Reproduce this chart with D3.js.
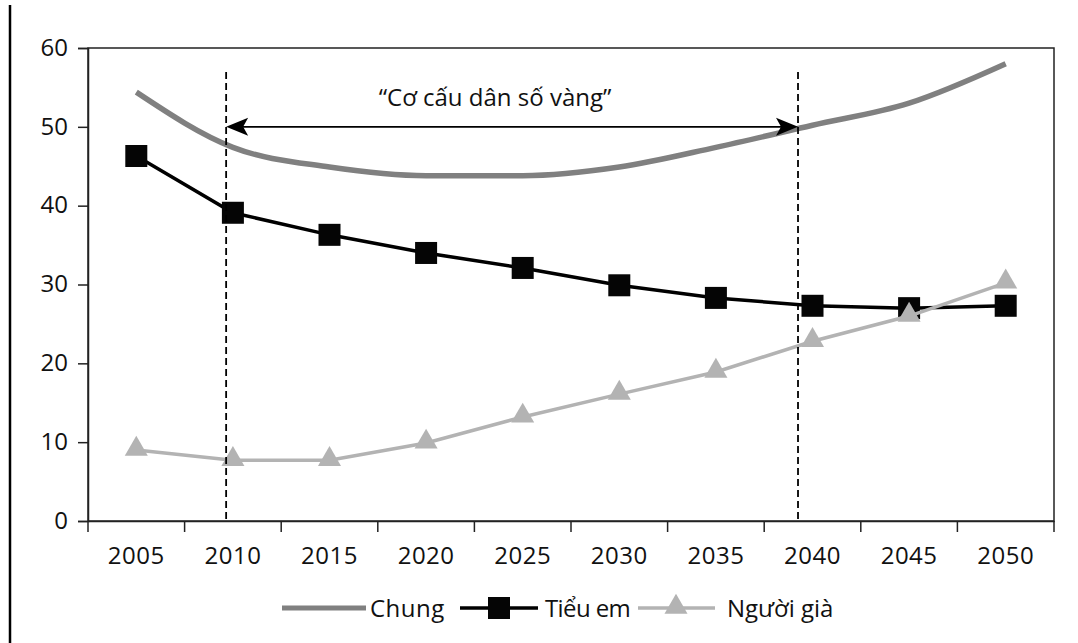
<!DOCTYPE html>
<html>
<head>
<meta charset="utf-8">
<script src="https://cdn.jsdelivr.net/npm/d3@7"></script>
<style>
  body { margin: 0; background: #fff; }
  text { font-family: "Open Sans", sans-serif; fill: #111; }
</style>
</head>
<body>
<div id="chart"></div>
<script>
// years on the category axis
var years = [2005, 2010, 2015, 2020, 2025, 2030, 2035, 2040, 2045, 2050];
// series values
var chung   = [54.4, 47.4, 44.9, 43.8, 43.8, 44.9, 47.4, 50.2, 53.0, 58.0];
var treEm   = [46.3, 39.1, 36.3, 34.0, 32.1, 29.9, 28.3, 27.3, 27.0, 27.3];
var nguoiGia = [9.0, 7.7, 7.7, 9.9, 13.2, 16.1, 18.9, 22.8, 26.0, 30.2];
var yTicks = [0, 10, 20, 30, 40, 50, 60];
// "golden structure" period markers (fractional years)
var goldenStart = 2009.65, goldenEnd = 2039.25;
var goldenLabel = "\u201CCơ cấu dân số vàng\u201D";
var seriesNames = ["Chung", "Tiểu em", "Người già"];

var W = 1078, H = 643;
var svg = d3.select("#chart").append("svg")
    .attr("width", W).attr("height", H);

// page border on the left
svg.append("line")
    .attr("x1", 10).attr("x2", 10).attr("y1", 5).attr("y2", H)
    .style("stroke", "#000").style("stroke-width", 2.5);

var plotL = 88, plotR = 1054, plotT = 48, plotB = 521;

var x = d3.scaleBand().domain(years).range([plotL, plotR]).padding(0);
var bw = x.bandwidth();
var cx = function (d) { return x(d) + bw / 2; };
// continuous year scale through the band centres
var xy = d3.scaleLinear().domain([years[0], years[years.length - 1]])
    .range([cx(years[0]), cx(years[years.length - 1])]);
var y = d3.scaleLinear().domain([0, 60]).range([plotB, plotT]);

// frame
svg.append("rect")
    .attr("x", plotL).attr("y", plotT)
    .attr("width", plotR - plotL).attr("height", plotB - plotT)
    .style("fill", "none").style("stroke", "#222").style("stroke-width", 1.5);

// y axis
var yAxis = svg.append("g")
    .attr("transform", "translate(" + plotL + ",0)")
    .call(d3.axisLeft(y).tickValues(yTicks).tickSize(10).tickPadding(10).tickFormat(d3.format("d")));
yAxis.select(".domain").style("stroke", "#222").style("stroke-width", 1.5);
yAxis.selectAll(".tick line").style("stroke", "#222").style("stroke-width", 1.5);
yAxis.selectAll("text")
    .style("font-family", "'Open Sans', sans-serif")
    .style("font-size", "24px").style("fill", "#111")
    .attr("dy", "0.3em");

// x axis: labels at band centres, ticks at band edges
var xAxis = svg.append("g")
    .attr("transform", "translate(0," + plotB + ")")
    .call(d3.axisBottom(x).tickSize(0).tickPadding(26));
xAxis.select(".domain").style("stroke", "#222").style("stroke-width", 1.5);
xAxis.selectAll("text")
    .style("font-family", "'Open Sans', sans-serif")
    .style("font-size", "24px").style("fill", "#111")
    .style("letter-spacing", "0.5px");

var edges = years.map(function (d) { return x(d); }).concat([plotR]);
svg.selectAll("xtick")
    .data(edges)
    .enter()
    .append("line")
    .attr("x1", function (d) { return d; })
    .attr("x2", function (d) { return d; })
    .attr("y1", plotB).attr("y2", plotB + 11)
    .style("stroke", "#222").style("stroke-width", 1.5);

// lines
var lineSmooth = d3.line()
    .x(function (d, i) { return cx(years[i]); })
    .y(function (d) { return y(d); })
    .curve(d3.curveMonotoneX);
var lineStraight = d3.line()
    .x(function (d, i) { return cx(years[i]); })
    .y(function (d) { return y(d); });

svg.append("path")
    .datum(chung)
    .attr("d", lineSmooth)
    .style("fill", "none").style("stroke", "#808080").style("stroke-width", 5.5);

svg.append("path")
    .datum(treEm)
    .attr("d", lineStraight)
    .style("fill", "none").style("stroke", "#000").style("stroke-width", 3.5);

var sq = 22;
svg.selectAll("sq")
    .data(treEm)
    .enter()
    .append("rect")
    .attr("x", function (d, i) { return cx(years[i]) - sq / 2; })
    .attr("y", function (d) { return y(d) - sq / 2; })
    .attr("width", sq).attr("height", sq)
    .style("fill", "#050505");

svg.append("path")
    .datum(nguoiGia)
    .attr("d", lineStraight)
    .style("fill", "none").style("stroke", "#b3b3b3").style("stroke-width", 3.5);

var tri = d3.symbol().type(d3.symbolTriangle).size(230);
svg.selectAll("tri")
    .data(nguoiGia)
    .enter()
    .append("path")
    .attr("d", tri)
    .attr("transform", function (d, i) {
        return "translate(" + cx(years[i]) + "," + (y(d) - 1) + ")";
    })
    .style("fill", "#b3b3b3");

// golden structure markers
[goldenStart, goldenEnd].forEach(function (yr) {
    svg.append("line")
        .attr("x1", xy(yr)).attr("x2", xy(yr))
        .attr("y1", 72).attr("y2", plotB)
        .style("stroke", "#000").style("stroke-width", 1.8)
        .style("stroke-dasharray", "7,4");
});

var ay = y(50);
svg.append("line")
    .attr("x1", xy(goldenStart) + 10).attr("x2", xy(goldenEnd) - 10)
    .attr("y1", ay).attr("y2", ay)
    .style("stroke", "#000").style("stroke-width", 1.8);
svg.append("path")
    .attr("d", "M" + xy(goldenStart) + "," + ay + " l22,-9 l-5,9 l5,9 z")
    .style("fill", "#000");
svg.append("path")
    .attr("d", "M" + xy(goldenEnd) + "," + ay + " l-22,-9 l5,9 l-5,9 z")
    .style("fill", "#000");

svg.append("text")
    .attr("x", 495).attr("y", 106)
    .attr("text-anchor", "middle")
    .style("font-size", "24px")
    .text(goldenLabel);

// legend
var lg = svg.append("g").attr("transform", "translate(0,608)");
lg.append("line").attr("x1", 282).attr("x2", 366).attr("y1", 0).attr("y2", 0)
    .style("stroke", "#808080").style("stroke-width", 5);
lg.append("text").attr("x", 370).attr("y", 9).style("font-size", "24px")
    .style("letter-spacing", "0.5px").text(seriesNames[0]);

lg.append("line").attr("x1", 460).attr("x2", 538).attr("y1", 0).attr("y2", 0)
    .style("stroke", "#000").style("stroke-width", 3.5);
lg.append("rect").attr("x", 499 - sq / 2).attr("y", -sq / 2)
    .attr("width", sq).attr("height", sq).style("fill", "#050505");
lg.append("text").attr("x", 545).attr("y", 9).style("font-size", "24px")
    .style("letter-spacing", "-0.6px").text(seriesNames[1]);

lg.append("line").attr("x1", 638).attr("x2", 715).attr("y1", 0).attr("y2", 0)
    .style("stroke", "#b3b3b3").style("stroke-width", 3.5);
lg.append("path").attr("d", tri).attr("transform", "translate(676,-1)")
    .style("fill", "#b3b3b3");
lg.append("text").attr("x", 727).attr("y", 9).style("font-size", "24px")
    .text(seriesNames[2]);
</script>
</body>
</html>
